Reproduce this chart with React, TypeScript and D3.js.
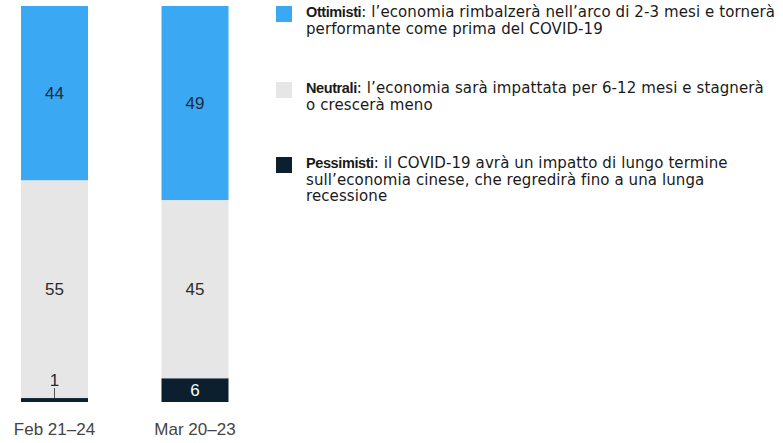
import React from 'react';
import * as d3 from 'd3';

const categories = ['Feb 21–24', 'Mar 20–23'];
const ottimisti = [44, 49];
const neutrali = [55, 45];
const pessimisti = [1, 6];

const seriesKeys = ['pessimisti', 'neutrali', 'ottimisti'];
const seriesColors: Record<string, string> = {
  ottimisti: '#3aa8f2',
  neutrali: '#e6e6e6',
  pessimisti: '#0c1f2f',
};
const labelColors: Record<string, string> = {
  ottimisti: '#1c2b3b',
  neutrali: '#2b2b2b',
  pessimisti: '#ffffff',
};

const legendItems = [
  {
    key: 'ottimisti',
    bold: 'Ottimisti',
    lines: [': l’economia rimbalzerà nell’arco di 2-3 mesi e tornerà', 'performante come prima del COVID-19'],
  },
  {
    key: 'neutrali',
    bold: 'Neutrali',
    lines: [': l’economia sarà impattata per 6-12 mesi e stagnerà', 'o crescerà meno'],
  },
  {
    key: 'pessimisti',
    bold: 'Pessimisti',
    lines: [': il COVID-19 avrà un impatto di lungo termine', 'sull’economia cinese, che regredirà fino a una lunga', 'recessione'],
  },
];

const W = 783;
const H = 443;

export default function App() {
  const rows = categories.map((c, i) => ({
    cat: c,
    ottimisti: ottimisti[i],
    neutrali: neutrali[i],
    pessimisti: pessimisti[i],
  }));
  const stacked = d3.stack<any>().keys(seriesKeys)(rows);

  const x = d3.scalePoint<string>().domain(categories).range([54.5, 195]);
  const barW = 67;
  const y = d3.scaleLinear().domain([0, 100]).range([402, 6]);

  const numFont = '"Liberation Sans", Arial, sans-serif';
  const legendY = [17, 93, 168];

  return (
    <div style={{ position: 'absolute', left: 0, top: 0 }}>
      <svg width={W} height={H} viewBox={`0 0 ${W} ${H}`} style={{ display: 'block', background: '#fff' }}>
        {/* bars */}
        {stacked.map(s => (
          <g key={s.key}>
            {s.map((d, i) => {
              const cx = x(categories[i])!;
              return (
                <rect
                  key={i}
                  x={cx - barW / 2}
                  y={y(d[1])}
                  width={barW}
                  height={y(d[0]) - y(d[1])}
                  fill={seriesColors[s.key]}
                />
              );
            })}
          </g>
        ))}

        {/* value labels */}
        {stacked.map(s => (
          <g key={s.key + '-lab'}>
            {s.map((d, i) => {
              const cx = x(categories[i])!;
              const y0 = y(d[0]);
              const y1 = y(d[1]);
              const v = d[1] - d[0];
              if (y0 - y1 < 12) {
                return (
                  <g key={i}>
                    <line x1={cx} x2={cx} y1={y1 - 10} y2={y1} stroke="#2b2b2b" strokeWidth={0.8} />
                    <text x={cx} y={y1 - 12} textAnchor="middle" fontFamily={numFont} fontSize={17} fill="#1c2b3b">
                      {v}
                    </text>
                  </g>
                );
              }
              return (
                <text
                  key={i}
                  x={cx}
                  y={(y0 + y1) / 2}
                  dy="0.35em"
                  textAnchor="middle"
                  fontFamily={numFont}
                  fontSize={17}
                  fill={labelColors[s.key]}
                >
                  {v}
                </text>
              );
            })}
          </g>
        ))}

        {categories.map(c => (
          <text key={c} x={x(c)} y={435} textAnchor="middle" fontFamily={numFont} fontSize={17} fill="#444">
            {c}
          </text>
        ))}

        {legendItems.map((item, i) => (
          <g key={item.key} transform={`translate(276, ${legendY[i]})`}>
            <rect x={0} y={-11} width={16} height={16} fill={seriesColors[item.key]} />
            <text
              x={30}
              y={0}
              fontFamily='"DejaVu Sans", Verdana, sans-serif'
              fontSize={15}
              letterSpacing={0.1}
              fill="#1a1a1a"
            >
              <tspan fontFamily={numFont} fontWeight="bold" fontSize={14.5} letterSpacing={-0.4}>
                {item.bold}
              </tspan>
              <tspan>{item.lines[0]}</tspan>
              {item.lines.slice(1).map((l, j) => (
                <tspan key={j} x={30} dy={16.5}>
                  {l}
                </tspan>
              ))}
            </text>
          </g>
        ))}
      </svg>
    </div>
  );
}
